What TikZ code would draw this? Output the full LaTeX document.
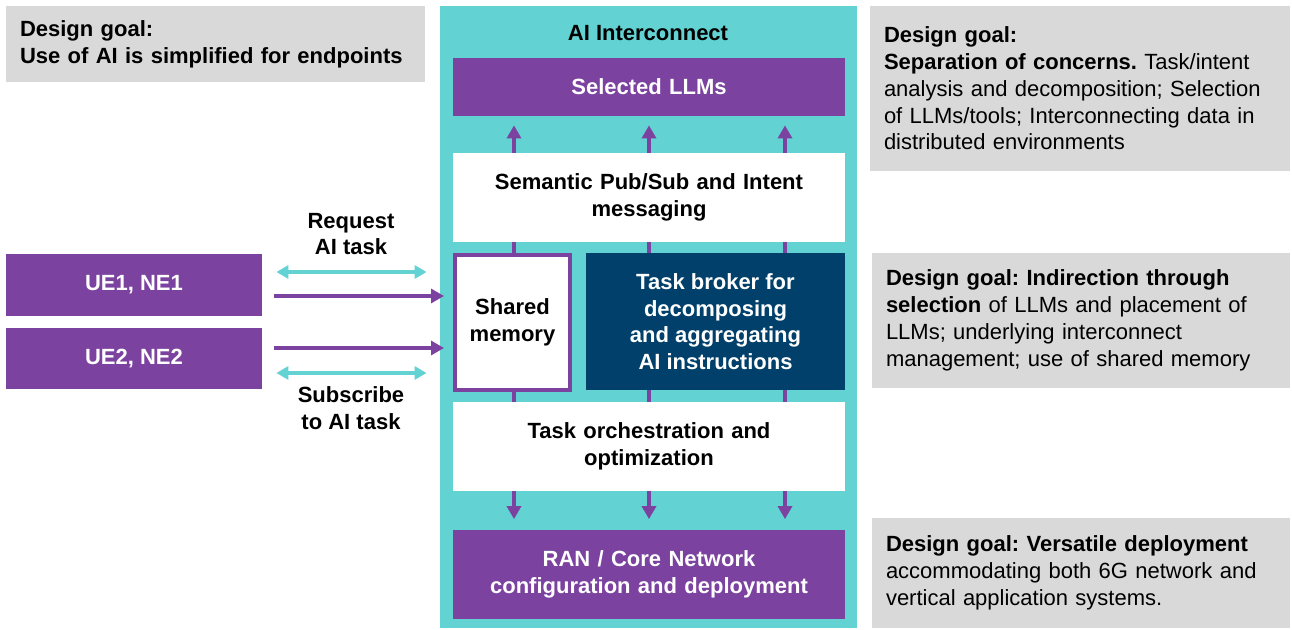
\documentclass[tikz,border=0pt]{standalone}
\usepackage{fontspec}
\setmainfont{Liberation Sans}
\usetikzlibrary{arrows.meta,positioning}

\definecolor{aiteal}{RGB}{98,210,210}
\definecolor{aipurple}{RGB}{123,66,160}
\definecolor{aiblue}{RGB}{0,64,106}
\definecolor{goalgray}{RGB}{217,217,217}

\begin{document}
\frenchspacing
\begin{tikzpicture}[x=0.5pt,y=-0.5pt,
  every node/.style={font=\fontsize{11}{13.25}\selectfont\bfseries,inner sep=0pt,align=center},
  layer/.style={minimum width=196pt,text width=190pt},
  purplebox/.style={fill=aipurple,text=white},
  whitebox/.style={fill=white},
  goal/.style={fill=goalgray,align=left,inner xsep=7pt,font=\fontsize{11}{13.4}\selectfont},
  link/.style={draw=aipurple,line width=2pt},
  flow/.style={link,-{Triangle[width=7pt,length=6.5pt]}},
  msg/.style={draw=aiteal,line width=2pt,{Triangle[width=6.5pt,length=6pt]}-{Triangle[width=6.5pt,length=6pt]}}]

\useasboundingbox (0,0) rectangle (1292,630);

% design goals
\node[goal,text width=195.5pt,minimum height=38pt] (goalA) at (215.5,44)
  {\textbf{Design goal:}\\\textbf{Use of AI is simplified for endpoints}};
\node[goal,text width=196pt,minimum height=82.5pt] (goalB) at (1080,88.5)
  {\textbf{Design goal:}\\\textbf{Separation of concerns.} Task/intent\\analysis and decomposition; Selection\\of LLMs/tools; Interconnecting data in\\distributed environments};
\node[goal,text width=195pt,minimum height=67.5pt] (goalC) at (1081,320.5)
  {\textbf{Design goal: Indirection through}\\\textbf{selection} of LLMs and placement of\\LLMs; underlying interconnect\\management; use of shared memory};
\node[goal,text width=195pt,minimum height=55pt] (goalD) at (1081,573)
  {\textbf{Design goal: Versatile deployment}\\accommodating both 6G network and\\vertical application systems.};

% interconnect
\node[fill=aiteal,minimum width=208.5pt,minimum height=311pt] (aic) at (648.5,317) {};
\node (aictitle) at (648,33) {AI Interconnect};
\node[layer,purplebox,minimum height=29pt] (llms) at (649,87) {Selected LLMs};
\node[layer,whitebox,minimum height=44.5pt] (sem) at (649,197.5) {Semantic Pub/Sub and Intent\\messaging};
\node[layer,whitebox,minimum height=44.5pt] (orch) at (649,446.5) {Task orchestration and\\optimization};
\node[layer,purplebox,minimum height=44.5pt] (ran) at (649,574.5) {RAN / Core Network\\configuration and deployment};

\foreach \dx in {-67.5pt,0pt,68pt} {
  \draw[flow,shorten >=4.5pt] ([xshift=\dx]sem.north) -- ([xshift=\dx]llms.south);
  \draw[link] ([xshift=\dx]sem.south) -- ([xshift=\dx]orch.north);
  \draw[flow,shorten >=5.25pt] ([xshift=\dx]orch.south) -- ([xshift=\dx]ran.north);
}

\node[draw=aipurple,line width=2pt,fill=white,minimum width=57.5pt,minimum height=67.5pt] (mem) at (512.5,322.5) {Shared\\memory};
\node[fill=aiblue,text=white,minimum width=129.5pt,minimum height=68.5pt] (broker) at (715.5,321.5)
  {Task broker for\\decomposing\\and aggregating\\AI instructions};

% endpoints
\node[purplebox,minimum width=128pt,minimum height=31pt] (ue1) at (134,285) {UE1, NE1};
\node[purplebox,minimum width=128pt,minimum height=30.5pt] (ue2) at (134,358.5) {UE2, NE2};

\draw[msg,shorten <=7pt,shorten >=6.5pt] ([yshift=6.5pt]ue1.east) -- ([yshift=6.5pt]ue1.east -| aic.west);
\draw[flow,shorten <=6pt,shorten >=4.5pt] ([yshift=-5.5pt]ue1.east) -- ([yshift=-5.5pt]ue1.east -| mem.west);
\draw[flow,shorten <=6pt,shorten >=4.5pt] ([yshift=5.25pt]ue2.east) -- ([yshift=5.25pt]ue2.east -| mem.west);
\draw[msg,shorten <=7pt,shorten >=6.5pt] ([yshift=-7.25pt]ue2.east) -- ([yshift=-7.25pt]ue2.east -| aic.west);

\node (reqlbl) at (351,234) {Request\\AI task};
\node (sublbl) at (351,408) {Subscribe\\to AI task};

\end{tikzpicture}
\end{document}
